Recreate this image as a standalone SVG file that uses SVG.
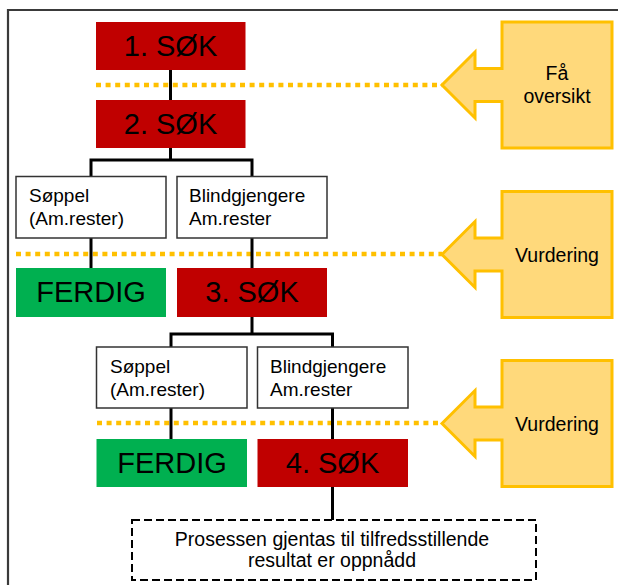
<svg xmlns="http://www.w3.org/2000/svg" xmlns:xlink="http://www.w3.org/1999/xlink" width="618" height="585" viewBox="0 0 618 585">
<style>
text{font-family:"Liberation Sans",Arial,sans-serif;fill:#000}
.big{font-size:29px;text-anchor:middle}
.sm{font-size:19px}
.side{font-size:19.5px;text-anchor:middle}
.note{font-size:19.5px;text-anchor:middle}
.red{fill:#C00000}
.green{fill:#00B050}
.white{fill:#fff;stroke:#333;stroke-width:1.5}
.dots{stroke:#FFC000;stroke-width:4.5;stroke-dasharray:5 4.6;fill:none}
.conn{stroke:#000;stroke-width:3;fill:none}
.arrow{fill:#FFD97B;stroke:#FFC000;stroke-width:3;stroke-linejoin:miter}
</style>
<defs>
<path id="arrowShape" class="arrow" d="M502,22 H612 V148 H502 V101.5 H475 V118 L442,85 L475,52 V68.5 H502 Z"/>
</defs>
<rect width="618" height="585" fill="#fff"/>
<path d="M8,585 V10 H618" fill="none" stroke="#3a3a3a" stroke-width="2.2"/>
<g id="dotted-lines">
<line class="dots" x1="96" y1="85" x2="442" y2="85"/>
<line class="dots" x1="16" y1="254" x2="442" y2="254"/>
<line class="dots" x1="97" y1="423" x2="442" y2="423"/>
</g>
<g id="connectors">
<path class="conn" d="M170.5,70 V100"/>
<path class="conn" d="M170.5,148 V160 M91,177 V160 H252 V177"/>
<path class="conn" d="M91,238 V268 M252,238 V268"/>
<path class="conn" d="M252,317 V334 M171,347 V334 H332.5 V347"/>
<path class="conn" d="M171,408 V439 M332.5,408 V439"/>
<path class="conn" d="M332.5,487 V520"/>
</g>
<g id="sok1"><rect class="red" x="96" y="22" width="149.5" height="48"/><text class="big" x="170.5" y="56">1. SØK</text></g>
<g id="sok2"><rect class="red" x="96" y="100" width="149.5" height="48"/><text class="big" x="170.5" y="134">2. SØK</text></g>
<g id="soppel1"><rect class="white" x="16" y="176.5" width="150" height="61.5"/><text class="sm" x="29" y="202">Søppel</text><text class="sm" x="29" y="225">(Am.rester)</text></g>
<g id="blind1"><rect class="white" x="177" y="176.5" width="150" height="61.5"/><text class="sm" x="189" y="202">Blindgjengere</text><text class="sm" x="189" y="225">Am.rester</text></g>
<g id="ferdig1"><rect class="green" x="16" y="268" width="150" height="49"/><text class="big" x="91" y="302">FERDIG</text></g>
<g id="sok3"><rect class="red" x="177" y="268" width="150" height="49"/><text class="big" x="252" y="302">3. SØK</text></g>
<g id="soppel2"><rect class="white" x="96.5" y="347" width="150.5" height="61"/><text class="sm" x="110" y="373">Søppel</text><text class="sm" x="110" y="396">(Am.rester)</text></g>
<g id="blind2"><rect class="white" x="257.5" y="347" width="150.5" height="61"/><text class="sm" x="270" y="373">Blindgjengere</text><text class="sm" x="270" y="396">Am.rester</text></g>
<g id="ferdig2"><rect class="green" x="96.5" y="439" width="150.5" height="48"/><text class="big" x="172" y="473">FERDIG</text></g>
<g id="sok4"><rect class="red" x="257.5" y="439" width="150.5" height="48"/><text class="big" x="332.5" y="473">4. SØK</text></g>
<g id="note"><rect x="132" y="520" width="404" height="60" fill="#fff" stroke="#000" stroke-width="2" stroke-dasharray="8 4"/><text class="note" x="332" y="546">Prosessen gjentas til tilfredsstillende</text><text class="note" x="332" y="567">resultat er oppnådd</text></g>
<g id="fa-oversikt"><use xlink:href="#arrowShape"/><text class="side" x="557" y="80">Få</text><text class="side" x="557" y="103">oversikt</text></g>
<g id="vurdering1"><use xlink:href="#arrowShape" transform="translate(0,169.5)"/><text class="side" x="557" y="262">Vurdering</text></g>
<g id="vurdering2"><use xlink:href="#arrowShape" transform="translate(0,338.5)"/><text class="side" x="557" y="431">Vurdering</text></g>
</svg>
